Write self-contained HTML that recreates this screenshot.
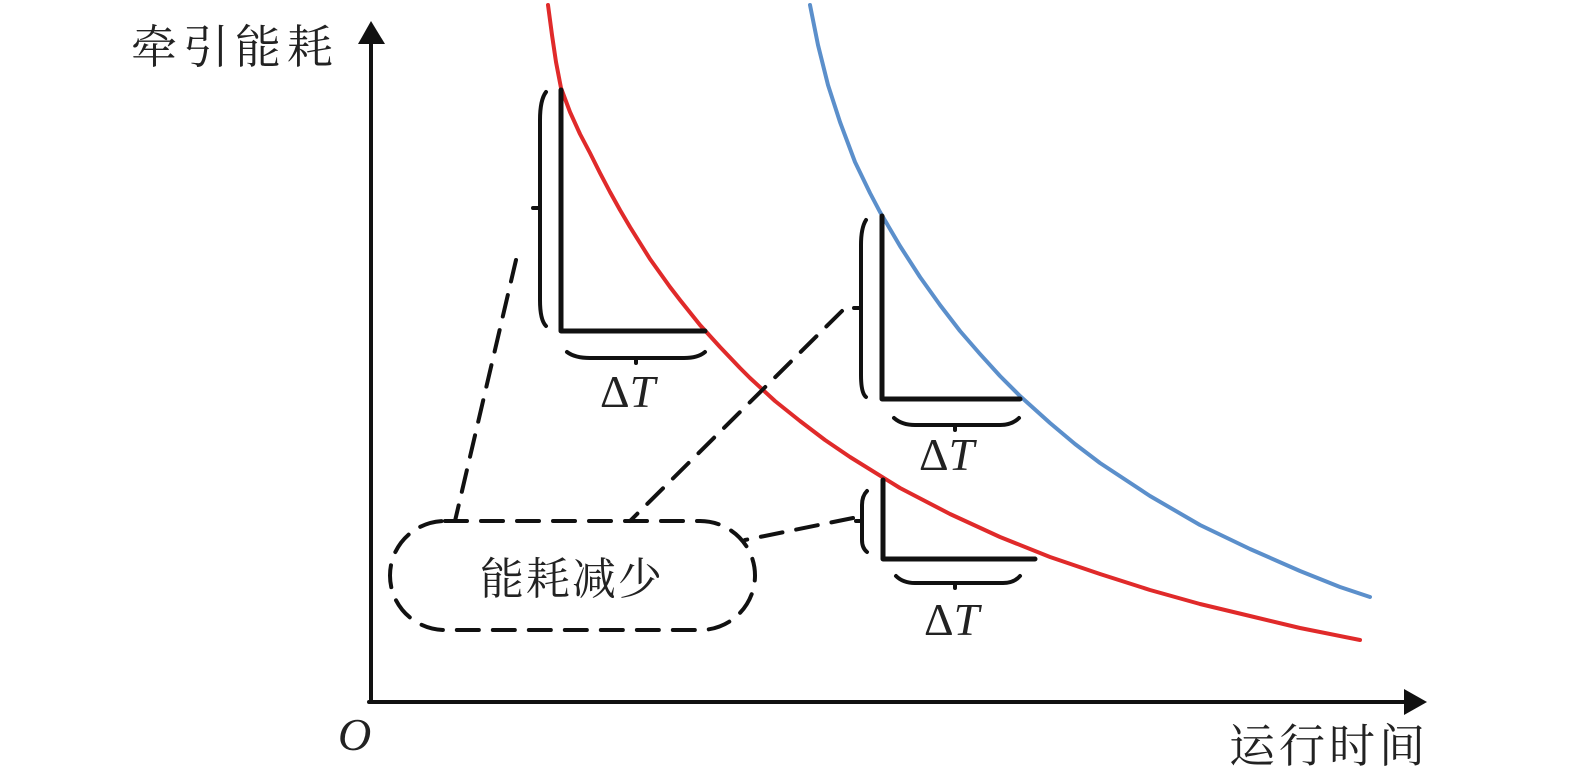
<!DOCTYPE html>
<html><head><meta charset="utf-8"><style>
html,body{margin:0;padding:0;background:#fff;}
svg{display:block}
.cjk{font-family:"Liberation Serif","Noto Serif CJK SC",serif;fill:#222}
.dt{font-family:"Liberation Serif",serif;font-size:46px;fill:#222}
</style></head><body>
<svg width="1575" height="781" viewBox="0 0 1575 781" xmlns="http://www.w3.org/2000/svg">
<g fill="none" stroke-linecap="round" stroke-linejoin="round">
<!-- curves -->
<polyline stroke="#e02a2a" stroke-width="4" points="548,5 552,35 556,62 561,88 570,112 580,134 590,153 600,173 610,192 620,210 630,227 640,243 650,259 660,273 670,287 680,300 700,325 720,347 740,368 750,378 775,401 800,421 825,440 850,457 900,488 950,514 1000,537 1050,557 1100,574 1150,590 1200,604 1250,616 1300,628 1360,640"/>
<polyline stroke="#5b8fcb" stroke-width="4" points="810,5 818,45 828,85 840,122 855,162 870,193 880,212 890,229 900,246 920,277 940,305 960,331 980,354 1000,376 1020,396 1050,423 1075,444 1100,463 1150,496 1200,525 1250,549 1300,571 1340,587 1370,597"/>
<!-- axes -->
<g stroke="#111" stroke-width="4">
<line x1="371" y1="702" x2="371" y2="40"/>
<line x1="369" y1="702" x2="1405" y2="702"/>
</g>
<!-- L shapes -->
<g stroke="#111" stroke-width="5">
<polyline points="561,90 561,331 705,331"/>
<polyline points="882,216 882,399 1020,399"/>
<polyline points="883,480 883,559 1035,559"/>
</g>
<!-- braces -->
<g stroke="#111" stroke-width="4">
<path d="M546,92 Q540,100 540,120 L540,300 Q540,320 546,326 M540,208 L533,208"/>
<path d="M567,352 Q575,358 590,358 L684,358 Q698,358 705,352 M636,358 L636,363"/>
<path d="M866,220 Q861,228 861,245 L861,375 Q861,393 866,397 M861,308 L854,308"/>
<path d="M894,418 Q902,425 915,425 L1000,425 Q1012,425 1019,418 M955,425 L955,430"/>
<path d="M867,491 Q862,496 862,505 L862,540 Q862,548 867,552 M862,521 L856,521"/>
<path d="M896,576 Q903,583 915,583 L1003,583 Q1014,583 1020,576 M955,583 L955,588"/>
</g>
<!-- dashed -->
<g stroke="#111" stroke-width="4" stroke-dasharray="22,14">
<rect x="390" y="521" width="365" height="109" rx="55" ry="55"/>
<line x1="516" y1="260" x2="455" y2="521"/>
<line x1="842" y1="311" x2="630" y2="521"/>
<line x1="853" y1="518" x2="745" y2="540"/>
</g>
</g>
<!-- arrowheads -->
<polygon points="371,21 358,44 385,44" fill="#111"/>
<polygon points="1427,702 1404,689 1404,715" fill="#111"/>
<!-- labels -->
<text class="cjk" x="131" y="63" font-size="46" letter-spacing="6">牵引能耗</text>
<text class="cjk" x="1229" y="762" font-size="46" letter-spacing="4">运行时间</text>
<text class="cjk" x="480" y="594" font-size="44" letter-spacing="2">能耗减少</text>
<text x="338" y="750" font-family="Liberation Serif,serif" font-style="italic" font-size="46" fill="#222">O</text>
<text class="dt" x="600" y="407">Δ<tspan font-style="italic">T</tspan></text>
<text class="dt" x="919" y="470">Δ<tspan font-style="italic">T</tspan></text>
<text class="dt" x="924" y="635">Δ<tspan font-style="italic">T</tspan></text>
</svg>
</body></html>
